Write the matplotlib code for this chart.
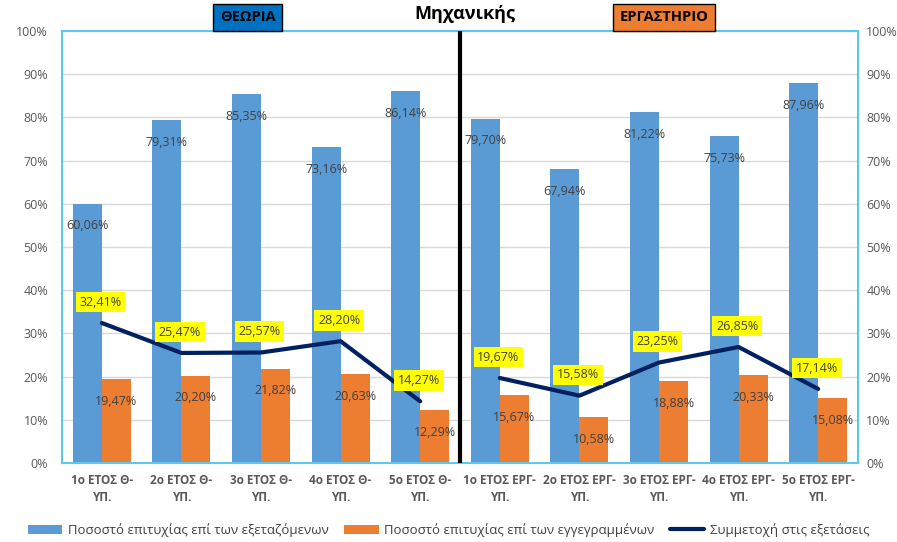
import numpy as np
import matplotlib.pyplot as plt

# Data
categories = ['1ο ΕΤΟΣ Θ-\nΥΠ.', '2ο ΕΤΟΣ Θ-\nΥΠ.', '3ο ΕΤΟΣ Θ-\nΥΠ.', '4ο ΕΤΟΣ Θ-\nΥΠ.', '5ο ΕΤΟΣ Θ-\nΥΠ.',
              '1ο ΕΤΟΣ ΕΡΓ-\nΥΠ.', '2ο ΕΤΟΣ ΕΡΓ-\nΥΠ.', '3ο ΕΤΟΣ ΕΡΓ-\nΥΠ.', '4ο ΕΤΟΣ ΕΡΓ-\nΥΠ.', '5ο ΕΤΟΣ ΕΡΓ-\nΥΠ.']
pass_examined = [60.06, 79.31, 85.35, 73.16, 86.14, 79.70, 67.94, 81.22, 75.73, 87.96]
pass_enrolled = [19.47, 20.20, 21.82, 20.63, 12.29, 15.67, 10.58, 18.88, 20.33, 15.08]
participation = [32.41, 25.47, 25.57, 28.20, 14.27, 19.67, 15.58, 23.25, 26.85, 17.14]

plt.rcParams['font.family'] = ['Open Sans', 'DejaVu Sans']

def fmt(v):
    return f'{v:.2f}'.replace('.', ',') + '%'

fig = plt.figure(figsize=(8.97, 5.42), dpi=100)
ax = fig.add_axes([0.0691, 0.1458, 0.8874, 0.797])

x = np.arange(len(categories))
w = 0.365
blue = '#5b9bd5'
orange = '#ed7d31'
navy = '#002060'

b1 = ax.bar(x - w / 2, pass_examined, w, color=blue, zorder=2)
b2 = ax.bar(x + w / 2, pass_enrolled, w, color=orange, zorder=2)
l1, = ax.plot(x[:5], participation[:5], color=navy, lw=3, zorder=3, solid_capstyle='round')
ax.plot(x[5:], participation[5:], color=navy, lw=3, zorder=3, solid_capstyle='round')

for i in range(len(x)):
    ax.annotate(fmt(pass_examined[i]), (x[i] - w / 2, pass_examined[i]), xytext=(0, -16),
                textcoords='offset points', ha='center', va='center', fontsize=9, color='#404040', zorder=4)
    ax.annotate(fmt(pass_enrolled[i]), (x[i] + w / 2, pass_enrolled[i]), xytext=(0, -16),
                textcoords='offset points', ha='center', va='center', fontsize=9, color='#404040', zorder=4)
    ax.annotate(fmt(participation[i]), (x[i], participation[i]), xytext=(-1, 15),
                textcoords='offset points', ha='center', va='center', fontsize=9, color='#404040', zorder=5,
                bbox=dict(boxstyle='square,pad=0.3', fc='#ffff00', ec='none'))

ax.set_xlim(-0.5, len(x) - 0.5)
ax.set_ylim(0, 100)
ax.set_yticks(range(0, 101, 10))
ax.set_yticklabels([f'{t}%' for t in range(0, 101, 10)], fontsize=9, color='#595959')
ax.set_xticks(x)
ax.set_xticklabels(categories, fontsize=8.5, fontweight='bold', color='#595959', linespacing=1.4)
ax.tick_params(length=0, pad=8)
ax.tick_params(axis='y', pad=10)
ax.grid(axis='y', color='#d9d9d9', lw=1, zorder=0)
for s in ax.spines.values():
    s.set_color('#5cc8f0')
    s.set_linewidth(1.5)

ax2 = ax.twinx()
ax2.set_ylim(0, 100)
ax2.set_yticks(range(0, 101, 10))
ax2.set_yticklabels([f'{t}%' for t in range(0, 101, 10)], fontsize=9, color='#595959')
ax2.tick_params(length=0, pad=6)
for s in ax2.spines.values():
    s.set_visible(False)

# divider between theory and lab
ax.axvline(4.5, color='black', lw=3, zorder=6)

fig.text(0.518, 0.975, 'Μηχανικής', ha='center', va='center', fontsize=13, fontweight='bold')
fig.text(0.276, 0.968, 'ΘΕΩΡΙΑ', ha='center', va='center', fontsize=10.5, fontweight='bold',
         bbox=dict(boxstyle='square,pad=0.45', fc='#0070c0', ec='black', lw=1))
fig.text(0.740, 0.968, 'ΕΡΓΑΣΤΗΡΙΟ', ha='center', va='center', fontsize=10.5, fontweight='bold',
         bbox=dict(boxstyle='square,pad=0.45', fc=orange, ec='black', lw=1))

fig.legend([b1, b2, l1],
           ['Ποσοστό επιτυχίας επί των εξεταζόμενων', 'Ποσοστό επιτυχίας επί των εγγεγραμμένων',
            'Συμμετοχή στις εξετάσεις'],
           loc='center', bbox_to_anchor=(0.5, 0.022), ncol=3, frameon=False, fontsize=9.5,
           handlelength=2.6, handleheight=0.7, columnspacing=1.2, handletextpad=0.4,
           labelcolor='#404040')

fig.savefig('out.png', dpi=100)
